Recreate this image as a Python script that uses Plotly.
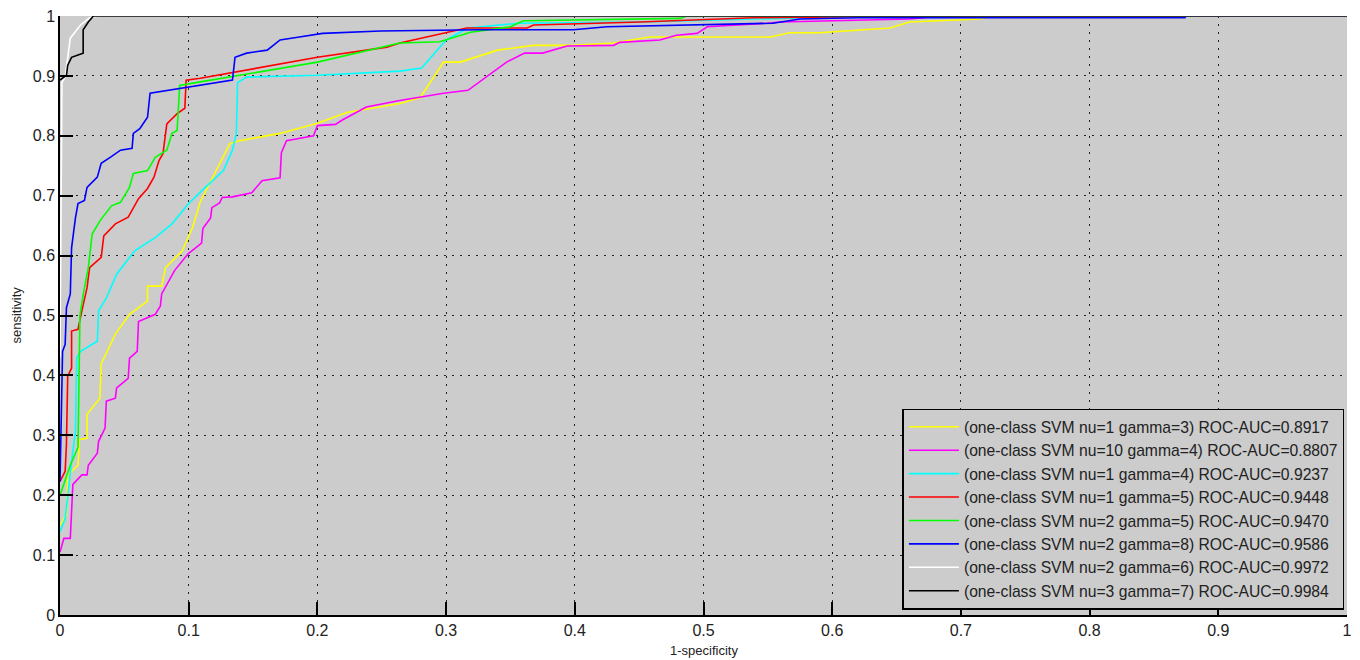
import plotly.graph_objects as go

# ---- data ----
labels = [
    "(one-class SVM nu=1 gamma=3) ROC-AUC=0.8917",
    "(one-class SVM nu=10 gamma=4) ROC-AUC=0.8807",
    "(one-class SVM nu=1 gamma=4) ROC-AUC=0.9237",
    "(one-class SVM nu=1 gamma=5) ROC-AUC=0.9448",
    "(one-class SVM nu=2 gamma=5) ROC-AUC=0.9470",
    "(one-class SVM nu=2 gamma=8) ROC-AUC=0.9586",
    "(one-class SVM nu=2 gamma=6) ROC-AUC=0.9972",
    "(one-class SVM nu=3 gamma=7) ROC-AUC=0.9984",
]
colors = ["#ffff00", "#ff00ff", "#00ffff", "#ff0000", "#00ff00", "#0000ff", "#ffffff", "#000000"]

fpr_nu1_g3 = [0, 0.005, 0.006, 0.014, 0.015, 0.021, 0.021, 0.031, 0.032, 0.043, 0.054, 0.068, 0.068,
              0.079, 0.082, 0.095, 0.103, 0.109, 0.132, 0.14, 0.171, 0.2, 0.223, 0.264, 0.28, 0.298,
              0.311, 0.34, 0.368, 0.399, 0.43, 0.458, 0.552, 0.567, 0.59, 0.645, 0.66, 0.715, 0.725, 1]
tpr_nu1_g3 = [0.15, 0.167, 0.234, 0.25, 0.293, 0.295, 0.335, 0.362, 0.419, 0.469, 0.502, 0.524, 0.549,
              0.549, 0.58, 0.608, 0.647, 0.69, 0.787, 0.792, 0.804, 0.821, 0.839, 0.854, 0.864, 0.923,
              0.923, 0.943, 0.951, 0.951, 0.955, 0.965, 0.965, 0.972, 0.972, 0.98, 0.99, 0.995, 1.0, 1.0]

fpr_nu10_g4 = [0, 0.003, 0.008, 0.01, 0.017, 0.021, 0.022, 0.029, 0.03, 0.035, 0.036, 0.043, 0.044,
               0.053, 0.054, 0.06, 0.061, 0.074, 0.078, 0.079, 0.089, 0.0995, 0.11, 0.111, 0.117, 0.118,
               0.124, 0.126, 0.134, 0.149, 0.157, 0.171, 0.172, 0.176, 0.197, 0.2, 0.214, 0.219, 0.238,
               0.264, 0.298, 0.317, 0.347, 0.361, 0.375, 0.394, 0.43, 0.435, 0.466, 0.479, 0.495, 0.503,
               0.549, 0.559, 0.66, 0.686, 1]
tpr_nu10_g4 = [0.105, 0.128, 0.128, 0.218, 0.234, 0.234, 0.25, 0.27, 0.29, 0.312, 0.357, 0.362, 0.379,
               0.395, 0.429, 0.44, 0.49, 0.502, 0.516, 0.536, 0.575, 0.603, 0.621, 0.645, 0.663, 0.68,
               0.688, 0.697, 0.698, 0.705, 0.725, 0.73, 0.772, 0.792, 0.8, 0.817, 0.819, 0.826, 0.848,
               0.859, 0.871, 0.876, 0.923, 0.938, 0.938, 0.95, 0.951, 0.956, 0.96, 0.968, 0.971, 0.982,
               0.988, 0.99, 0.995, 1.0, 1.0]

fpr_nu1_g4 = [0, 0.004, 0.009, 0.012, 0.013, 0.016, 0.029, 0.03, 0.036, 0.044, 0.058, 0.074, 0.087,
              0.1, 0.11, 0.127, 0.134, 0.137, 0.138, 0.145, 0.2, 0.264, 0.281, 0.3, 0.317, 0.357, 0.451,
              0.55, 0.63, 1]
tpr_nu1_g4 = [0.139, 0.161, 0.256, 0.307, 0.429, 0.44, 0.457, 0.508, 0.529, 0.569, 0.608, 0.63, 0.653,
              0.687, 0.708, 0.742, 0.776, 0.804, 0.889, 0.898, 0.901, 0.908, 0.913, 0.96, 0.98, 0.988, 0.99,
              0.995, 1.0, 1.0]

fpr_nu1_g5 = [0, 0.004, 0.005, 0.006, 0.009, 0.009, 0.014, 0.016, 0.017, 0.021, 0.023, 0.032, 0.034,
              0.043, 0.048, 0.053, 0.061, 0.068, 0.073, 0.077, 0.08, 0.083, 0.091, 0.097, 0.098, 0.109,
              0.2, 0.254, 0.264, 0.299, 0.316, 0.363, 0.368, 0.451, 0.539, 0.68, 1]
tpr_nu1_g5 = [0.223, 0.24, 0.285, 0.399, 0.412, 0.474, 0.477, 0.502, 0.508, 0.546, 0.58, 0.597, 0.633,
              0.653, 0.658, 0.664, 0.695, 0.712, 0.731, 0.759, 0.77, 0.82, 0.837, 0.846, 0.893, 0.896,
              0.931, 0.948, 0.955, 0.971, 0.98, 0.98, 0.985, 0.99, 0.997, 1.0, 1.0]

fpr_nu2_g5 = [0, 0.008, 0.014, 0.015, 0.0155, 0.018, 0.022, 0.025, 0.031, 0.04, 0.047, 0.054, 0.057,
              0.068, 0.074, 0.083, 0.087, 0.091, 0.093, 0.109, 0.2, 0.264, 0.295, 0.319, 0.35, 0.36,
              0.482, 0.487, 1]
tpr_nu2_g5 = [0.2, 0.25, 0.28, 0.395, 0.5, 0.535, 0.58, 0.636, 0.658, 0.683, 0.689, 0.714, 0.737,
              0.742, 0.764, 0.776, 0.804, 0.809, 0.884, 0.89, 0.923, 0.955, 0.957, 0.973, 0.982, 0.992,
              0.996, 1.0, 1.0]

fpr_nu2_g8 = [0, 0.002, 0.004, 0.005, 0.008, 0.009, 0.012, 0.014, 0.019, 0.021, 0.029, 0.032, 0.039,
              0.047, 0.056, 0.057, 0.062, 0.068, 0.07, 0.109, 0.134, 0.136, 0.145, 0.161, 0.171, 0.186,
              0.204, 0.249, 0.326, 0.399, 0.425, 0.554, 0.575, 0.62, 0.874, 0.875, 1]
tpr_nu2_g8 = [0.223, 0.44, 0.452, 0.513, 0.536, 0.613, 0.663, 0.687, 0.692, 0.714, 0.731, 0.754, 0.764,
              0.776, 0.779, 0.804, 0.812, 0.831, 0.871, 0.884, 0.893, 0.931, 0.938, 0.943, 0.96, 0.965,
              0.971, 0.975, 0.977, 0.977, 0.982, 0.988, 0.995, 0.997, 0.997, 1.0, 1.0]

fpr_nu2_g6 = [0, 0.0015, 0.004, 0.008, 0.016, 0.023, 0.03, 1]
tpr_nu2_g6 = [0.43, 0.889, 0.898, 0.963, 0.985, 0.997, 1.0, 1.0]

fpr_nu3_g7 = [0, 0.005, 0.006, 0.009, 0.014, 0.018, 0.018, 0.022, 0.026, 1]
tpr_nu3_g7 = [0.893, 0.901, 0.918, 0.931, 0.935, 0.938, 0.977, 0.99, 1.0, 1.0]

series_x = [fpr_nu1_g3, fpr_nu10_g4, fpr_nu1_g4, fpr_nu1_g5, fpr_nu2_g5, fpr_nu2_g8, fpr_nu2_g6, fpr_nu3_g7]
series_y = [tpr_nu1_g3, tpr_nu10_g4, tpr_nu1_g4, tpr_nu1_g5, tpr_nu2_g5, tpr_nu2_g8, tpr_nu2_g6, tpr_nu3_g7]

tick_vals = [0, 0.1, 0.2, 0.3, 0.4, 0.5, 0.6, 0.7, 0.8, 0.9, 1]
tick_text = ["0", "0.1", "0.2", "0.3", "0.4", "0.5", "0.6", "0.7", "0.8", "0.9", "1"]
x_title = "1-specificity"
y_title = "sensitivity"

FONT = "Liberation Sans, Arial, sans-serif"
TXT = "#222222"

fig = go.Figure()
for i, (xs, ys) in enumerate(zip(series_x, series_y)):
    fig.add_trace(go.Scatter(
        x=xs, y=ys, mode="lines", name=labels[i],
        line=dict(color=colors[i], width=1.6),
    ))

axis_common = dict(
    range=[0, 1], tickvals=tick_vals, ticktext=tick_text,
    showgrid=True, gridcolor="#222222", griddash="2px,6px", gridwidth=1,
    zeroline=False, showline=True, linecolor="#000000", linewidth=1.5,
    ticks="inside", tickcolor="#000000", ticklen=13, tickwidth=1.5,
    tickfont=dict(family=FONT, size=16, color=TXT),
    ticklabeloverflow="allow",
    automargin=False,
)
fig.update_xaxes(**axis_common)
fig.update_yaxes(**axis_common)

fig.add_annotation(text=x_title, xref="paper", yref="paper", x=0.5, y=0,
                   xanchor="center", yanchor="middle", yshift=-35, showarrow=False,
                   font=dict(family=FONT, size=13, color=TXT))
fig.add_annotation(text=y_title, xref="paper", yref="paper", x=0, y=0.5,
                   xanchor="center", yanchor="middle", xshift=-44, textangle=-90, showarrow=False,
                   font=dict(family=FONT, size=13, color=TXT))

# the page body adds an 8px offset; margins compensate so the plot area lands where the reference has it
fig.update_layout(
    width=1360, height=660,
    margin=dict(l=52, r=21, t=8, b=53),
    paper_bgcolor="#ffffff", plot_bgcolor="#cccccc",
    showlegend=True,
    legend=dict(
        x=0.998, y=0.009, xanchor="right", yanchor="bottom",
        bgcolor="#cccccc", bordercolor="#000000", borderwidth=1.5,
        font=dict(family=FONT, size=15.7, color=TXT),
        itemwidth=50,
    ),
)

fig.write_html("out.html")
